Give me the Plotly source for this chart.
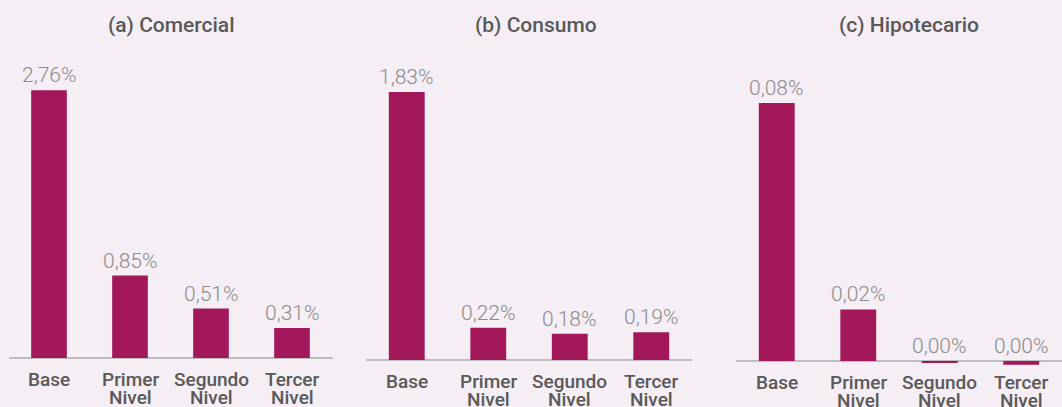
import plotly.graph_objects as go

categories = ["Base", "Primer Nivel", "Segundo Nivel", "Tercer Nivel"]
panel_titles = ["(a) Comercial", "(b) Consumo", "(c) Hipotecario"]
comercial = [2.76, 0.85, 0.51, 0.31]
consumo = [1.83, 0.22, 0.18, 0.19]
hipotecario = [0.080, 0.016, -0.0006, -0.0012]
series = [comercial, consumo, hipotecario]

BAR = "#A2185A"
BG = "#F5EEF5"
TXT = "#595959"
VAL = "#8C8C8C"
W, H = 1062, 407

def fmt(v):
    s = f"{abs(v) if round(v, 2) == 0 else v:.2f}"
    return s.replace(".", ",") + "%"

# layout per panel (pixels)
x_dom_px = [(8.5, 332.5), (366, 692), (736, 1062)]
base_px = [358, 360, 361]
top_px = 40
y_top = [3.278, 2.186, 0.0995]
title_x_px = [171, 536, 909]

fig = go.Figure()
annotations = []
for i, vals in enumerate(series):
    n = "" if i == 0 else str(i + 1)
    xa, ya = "x" + n, "y" + n
    fig.add_trace(go.Bar(
        x=list(range(len(categories))), y=vals, xaxis=xa, yaxis=ya,
        marker=dict(color=BAR, line=dict(width=0)), width=0.44,
        hoverinfo="skip", showlegend=False,
    ))
    scale = (base_px[i] - top_px) / y_top[i]
    y_bot = -5 / scale
    dom_bottom = (H - (base_px[i] + 5)) / H
    dom_top = (H - top_px) / H
    fig.update_layout(**{
        "xaxis" + n: dict(domain=[x_dom_px[i][0] / W, x_dom_px[i][1] / W],
                          range=[-0.5, 3.5], showticklabels=False, showgrid=False,
                          zeroline=False, showline=False, anchor=ya, fixedrange=True),
        "yaxis" + n: dict(domain=[dom_bottom, dom_top], range=[y_bot, y_top[i]],
                          showticklabels=False, showgrid=False, zeroline=True,
                          zerolinecolor="#BDBDBD", zerolinewidth=1.6,
                          showline=False, anchor=xa, fixedrange=True),
    })
    for j, v in enumerate(vals):
        annotations.append(dict(
            x=j, y=max(v, 0), xref=xa, yref=ya, text=fmt(v), showarrow=False,
            yanchor="bottom", yshift=1,
            font=dict(family="Roboto", size=21, color=VAL, weight=300),
        ))
        words = categories[j].split(" ")
        for k, w in enumerate(words):
            annotations.append(dict(
                x=j, y=0, xref=xa, yref=ya, text=w, showarrow=False,
                yanchor="top", yshift=-8 - 18 * k,
                font=dict(family="Roboto", size=19, color=TXT, weight=500),
            ))
    annotations.append(dict(
        x=title_x_px[i] / W, y=1 - 25 / H, xref="paper", yref="paper",
        text=panel_titles[i], showarrow=False, xanchor="center", yanchor="middle",
        font=dict(family="Roboto", size=21, color=TXT, weight=500),
    ))

fig.update_layout(
    width=W, height=H, margin=dict(l=0, r=0, t=0, b=0),
    paper_bgcolor=BG, plot_bgcolor=BG, annotations=annotations,
    bargap=0.56,
)
fig.write_html(
    "out.html",
    config={"displayModeBar": False},
    post_script="document.body.style.margin='0';document.body.style.background='%s';" % BG,
)
